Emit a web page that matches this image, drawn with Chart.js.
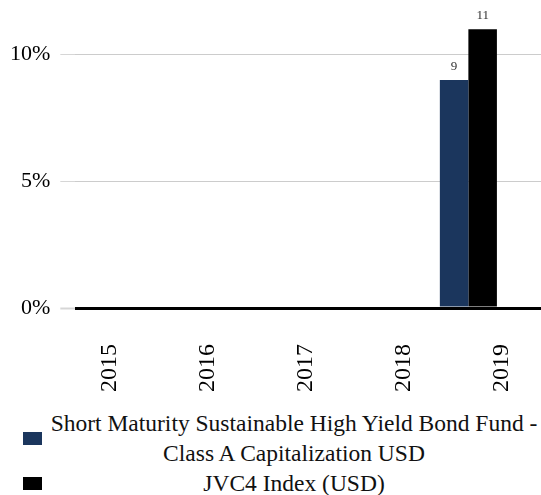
<!DOCTYPE html>
<html>
<head>
<meta charset="utf-8">
<script src="https://cdn.jsdelivr.net/npm/chart.js@4.4.1/dist/chart.umd.min.js"></script>
<style>
  html, body { margin: 0; padding: 0; background: #fff; overflow: hidden; width: 541px; height: 495px; }
  #wrap { position: absolute; left: 0; top: 0; width: 541px; height: 400px; }
  #legend { position: absolute; left: 0; top: 408px; width: 541px;
    font-family: "Liberation Serif", "Times New Roman", serif; font-size: 23.5px; line-height: 30px; color: #111; }
  .item { display: flex; align-items: center; }
  .box { width: 19px; height: 13px; margin-left: 23px; margin-right: 5px; flex: none; }
  .txt { width: 494px; text-align: center; white-space: nowrap; }
</style>
</head>
<body>
<div id="wrap"><canvas id="c" width="541" height="400"></canvas></div>
<div id="legend"></div>
<script>
// chart data
const years = [2015, 2016, 2017, 2018, 2019];
const fundValues = [0, 0, 0, 0, 9];
const indexValues = [0, 0, 0, 0, 11];
const seriesNames = [
  ["Short Maturity Sustainable High Yield Bond Fund -", "Class A Capitalization USD"],
  ["JVC4 Index (USD)"]
];
const seriesColors = ["#1b365d", "#000000"];

const serif = '"Liberation Serif", "Times New Roman", serif';

// value labels on top of the bars
const barLabels = {
  id: "barLabels",
  afterDatasetsDraw(chart) {
    const ctx = chart.ctx;
    ctx.save();
    ctx.font = "13px " + serif;
    ctx.fillStyle = "#333";
    ctx.textAlign = "center";
    ctx.textBaseline = "bottom";
    chart.data.datasets.forEach((ds, i) => {
      chart.getDatasetMeta(i).data.forEach((bar, j) => {
        const v = ds.data[j].y;
        if (!v) return;
        ctx.fillText(String(v), bar.x, bar.y - 7);
      });
    });
    ctx.restore();
  }
};

function toPoints(values) {
  return years.map((yr, i) => ({ x: yr, y: values[i] }));
}

const chart = new Chart(document.getElementById("c"), {
  type: "bar",
  data: {
    datasets: [
      { label: seriesNames[0].join(" "), data: toPoints(fundValues), backgroundColor: seriesColors[0] },
      { label: seriesNames[1].join(" "), data: toPoints(indexValues), backgroundColor: seriesColors[1] }
    ]
  },
  options: {
    responsive: false,
    animation: false,
    categoryPercentage: 0.583,
    barPercentage: 1,
    layout: { padding: { top: 4, right: 0, bottom: 8, left: 0 } },
    plugins: {
      legend: { display: false },
      tooltip: { enabled: false }
    },
    scales: {
      x: {
        type: "linear",
        offset: false,
        min: 2014.984,
        max: 2019.742,
        border: { display: false },
        grid: { display: false, drawTicks: false },
        ticks: {
          stepSize: 1,
          includeBounds: false,
          minRotation: 90,
          maxRotation: 90,
          padding: 36,
          labelOffset: 33,
          color: "#000",
          font: { family: serif, size: 24 },
          callback: v => String(v)
        },
        afterFit: s => { s.height = 84; s.paddingLeft = 0; s.paddingRight = 0; }
      },
      y: {
        min: 0,
        max: 12,
        border: { display: false },
        grid: {
          color: c => c.tick.value === 0 ? "#000" : "#cccccc",
          lineWidth: c => c.tick.value === 0 ? 3 : 1,
          tickColor: "#d6d6d6",
          tickWidth: c => c.tick.value === 0 ? 2 : 1,
          tickLength: 15
        },
        ticks: {
          stepSize: 5,
          includeBounds: false,
          padding: 10,
          color: "#000",
          font: { family: serif, size: 22 },
          callback: v => v + "%"
        },
        afterFit: s => { s.paddingTop = 0; s.paddingBottom = 0; }
      }
    }
  },
  plugins: [barLabels]
});

// legend built from the datasets
const legend = document.getElementById("legend");
chart.data.datasets.forEach((ds, i) => {
  const item = document.createElement("div");
  item.className = "item";
  const box = document.createElement("div");
  box.className = "box";
  box.style.background = ds.backgroundColor;
  const txt = document.createElement("div");
  txt.className = "txt";
  txt.innerHTML = seriesNames[i].join("<br>");
  item.appendChild(box);
  item.appendChild(txt);
  legend.appendChild(item);
});
</script>
</body>
</html>
